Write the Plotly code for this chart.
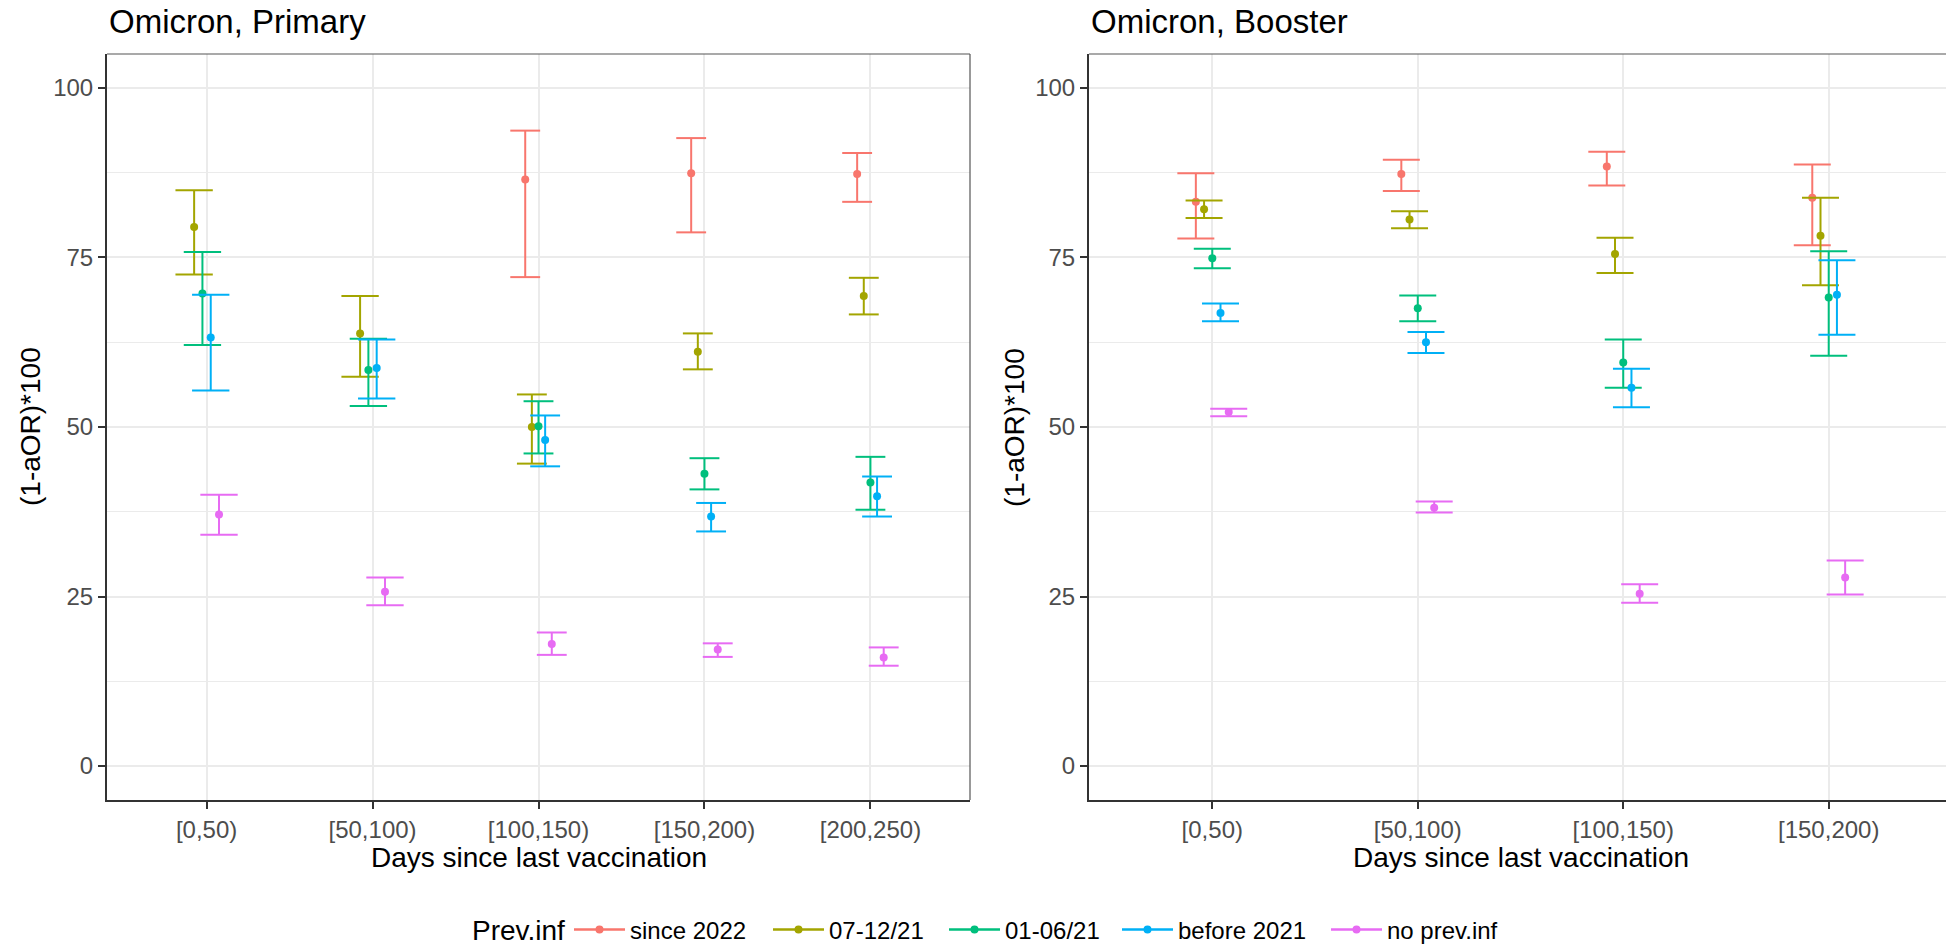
import plotly.graph_objects as go

# ---------------- data ----------------
groups = ["since 2022", "07-12/21", "01-06/21", "before 2021", "no prev.inf"]
colors = ["#F8766D", "#A3A500", "#00BF7D", "#00B0F6", "#E76BF3"]

primary_cats = ["[0,50)", "[50,100)", "[100,150)", "[150,200)", "[200,250)"]
booster_cats = ["[0,50)", "[50,100)", "[100,150)", "[150,200)"]

primary_est = {
    "since 2022": [None, None, 86.5, 87.4, 87.3],
    "07-12/21": [79.5, 63.8, 50.0, 61.1, 69.3],
    "01-06/21": [69.7, 58.4, 50.1, 43.1, 41.8],
    "before 2021": [63.2, 58.7, 48.1, 36.8, 39.8],
    "no prev.inf": [37.1, 25.7, 18.0, 17.2, 16.0],
}
primary_lo = {
    "since 2022": [None, None, 72.1, 78.7, 83.2],
    "07-12/21": [72.5, 57.4, 44.6, 58.5, 66.6],
    "01-06/21": [62.1, 53.1, 46.1, 40.8, 37.8],
    "before 2021": [55.4, 54.2, 44.2, 34.6, 36.8],
    "no prev.inf": [34.1, 23.7, 16.4, 16.1, 14.8],
}
primary_hi = {
    "since 2022": [None, None, 93.7, 92.6, 90.4],
    "07-12/21": [84.9, 69.3, 54.8, 63.8, 72.0],
    "01-06/21": [75.8, 63.0, 53.8, 45.4, 45.6],
    "before 2021": [69.5, 62.9, 51.7, 38.8, 42.7],
    "no prev.inf": [40.0, 27.8, 19.7, 18.1, 17.5],
}

booster_est = {
    "since 2022": [83.2, 87.3, 88.4, 83.8],
    "07-12/21": [82.1, 80.6, 75.5, 78.2],
    "01-06/21": [74.9, 67.5, 59.5, 69.1],
    "before 2021": [66.8, 62.5, 55.8, 69.5],
    "no prev.inf": [52.2, 38.1, 25.4, 27.8],
}
booster_lo = {
    "since 2022": [77.8, 84.8, 85.6, 76.8],
    "07-12/21": [80.8, 79.3, 72.7, 70.9],
    "01-06/21": [73.4, 65.6, 55.8, 60.5],
    "before 2021": [65.6, 60.9, 52.9, 63.6],
    "no prev.inf": [51.6, 37.4, 24.1, 25.3],
}
booster_hi = {
    "since 2022": [87.4, 89.4, 90.6, 88.7],
    "07-12/21": [83.4, 81.8, 77.9, 83.8],
    "01-06/21": [76.3, 69.4, 62.9, 75.9],
    "before 2021": [68.2, 64.0, 58.6, 74.6],
    "no prev.inf": [52.7, 39.0, 26.8, 30.3],
}

y_ticks = [0, 25, 50, 75, 100]

# ---------------- layout constants ----------------
W, H = 1946, 947
FONT = "Liberation Sans, Arial, sans-serif"
DODGE = 0.2
EB_WIDTH = 0.9
LEGEND_Y = 930
LEGEND_KEY_X = [574, 773, 949, 1122, 1331]   # pixel x where each legend key starts

fig = go.Figure()


def add_panel(cats, est, lo, hi, xa, ya):
    ncat = len(cats)
    present = []
    for c in range(ncat):
        present.append([g for g in groups if est[g][c] is not None])
    for gi, g in enumerate(groups):
        ex, ey = [], []
        px, py = [], []
        for c in range(ncat):
            if est[g][c] is None:
                continue
            n = len(present[c])
            k = present[c].index(g)
            xc = c + (k - (n - 1) / 2) * DODGE / n
            hw = EB_WIDTH / n / 2
            ex += [xc, xc, None, xc - hw, xc + hw, None, xc - hw, xc + hw, None]
            ey += [lo[g][c], hi[g][c], None, hi[g][c], hi[g][c], None, lo[g][c], lo[g][c], None]
            px.append(xc)
            py.append(est[g][c])
        fig.add_trace(go.Scatter(x=ex, y=ey, mode="lines", xaxis=xa, yaxis=ya,
                                 line=dict(color=colors[gi], width=2),
                                 showlegend=False, hoverinfo="skip"))
        fig.add_trace(go.Scatter(x=px, y=py, mode="markers", xaxis=xa, yaxis=ya,
                                 marker=dict(color=colors[gi], size=8),
                                 showlegend=False, name=g))


add_panel(primary_cats, primary_est, primary_lo, primary_hi, "x", "y")
add_panel(booster_cats, booster_est, booster_lo, booster_hi, "x2", "y2")

# legend entries, each in its own legend box so spacing can follow the reference
legend_layouts = {}
for gi, g in enumerate(groups):
    lname = "legend" if gi == 0 else f"legend{gi + 1}"
    fig.add_trace(go.Scatter(x=[None], y=[None], mode="lines+markers", name=g,
                             line=dict(color=colors[gi], width=2.5),
                             marker=dict(color=colors[gi], size=8),
                             xaxis="x", yaxis="y", legend=lname, showlegend=True))
    legend_layouts[lname] = dict(
        orientation="h", x=(LEGEND_KEY_X[gi] - 5) / W, xanchor="left",
        y=1 - LEGEND_Y / H, yanchor="middle",
        font=dict(family=FONT, size=24, color="black"),
        itemwidth=51, bgcolor="rgba(0,0,0,0)",
    )

# panel geometry in pixels
L_x0, L_x1 = 107.0, 970.0
R_x0, R_x1 = 1089.0, 1946.0
P_top, P_bot = 54.0, 800.0
unit_px_right = (L_x1 - L_x0) / 4.2

ydom = [1 - P_bot / H, 1 - P_top / H]

axis_common = dict(
    showline=True, linecolor="#333333", linewidth=2,
    ticks="outside", ticklen=7, tickwidth=2, tickcolor="#333333",
    tickfont=dict(family=FONT, size=24, color="#4D4D4D"),
    showgrid=True, gridcolor="#EBEBEB", gridwidth=2, zeroline=False, mirror=False,
)
minor_grid = dict(dtick=12.5, tick0=0, showgrid=True, gridcolor="#EBEBEB", gridwidth=1, ticks="")

fig.update_layout(
    width=W, height=H,
    margin=dict(l=0, r=0, t=0, b=0, autoexpand=False),
    paper_bgcolor="white", plot_bgcolor="white",
    font=dict(family=FONT, color="black"),
    xaxis=dict(domain=[L_x0 / W, L_x1 / W], range=[-0.6, len(primary_cats) - 0.4],
               tickmode="array", tickvals=list(range(len(primary_cats))), ticktext=primary_cats,
               anchor="y", **axis_common),
    yaxis=dict(domain=ydom, range=[-5, 105], tickmode="array", tickvals=y_ticks,
               anchor="x", minor=minor_grid, **axis_common),
    xaxis2=dict(domain=[R_x0 / W, 1.0],
                range=[-0.6, -0.6 + (R_x1 - R_x0) / unit_px_right],
                tickmode="array", tickvals=list(range(len(booster_cats))), ticktext=booster_cats,
                anchor="y2", **axis_common),
    yaxis2=dict(domain=ydom, range=[-5, 105], tickmode="array", tickvals=y_ticks,
                anchor="x2", minor=minor_grid, **axis_common),
    showlegend=True,
    **legend_layouts,
)

# thin top/right panel borders (ggplot panel.border)
shapes = [
    dict(type="line", xref="x domain", yref="y domain", x0=0, x1=1, y0=1, y1=1,
         line=dict(color="#555555", width=1.2)),
    dict(type="line", xref="x domain", yref="y domain", x0=1, x1=1, y0=0, y1=1,
         line=dict(color="#555555", width=1.2)),
    dict(type="line", xref="x2 domain", yref="y2 domain", x0=0, x1=1, y0=1, y1=1,
         line=dict(color="#555555", width=1.2)),
]
fig.update_layout(shapes=shapes)

annotations = [
    dict(text="Omicron, Primary", x=L_x0 / W, y=1 - 22 / H, xref="paper", yref="paper",
         xanchor="left", yanchor="middle", showarrow=False, font=dict(family=FONT, size=33, color="black")),
    dict(text="Omicron, Booster", x=R_x0 / W, y=1 - 22 / H, xref="paper", yref="paper",
         xanchor="left", yanchor="middle", showarrow=False, font=dict(family=FONT, size=33, color="black")),
    dict(text="(1-aOR)*100", x=30 / W, y=1 - 427 / H, xref="paper", yref="paper", textangle=-90,
         xanchor="center", yanchor="middle", showarrow=False, font=dict(family=FONT, size=28, color="black")),
    dict(text="(1-aOR)*100", x=1014 / W, y=1 - 427 / H, xref="paper", yref="paper", textangle=-90,
         xanchor="center", yanchor="middle", showarrow=False, font=dict(family=FONT, size=28, color="black")),
    dict(text="Days since last vaccination", x=(L_x0 + L_x1) / 2 / W, y=1 - 857 / H, xref="paper", yref="paper",
         xanchor="center", yanchor="middle", showarrow=False, font=dict(family=FONT, size=28, color="black")),
    dict(text="Days since last vaccination", x=(R_x0 + R_x0 + (L_x1 - L_x0)) / 2 / W, y=1 - 857 / H,
         xref="paper", yref="paper",
         xanchor="center", yanchor="middle", showarrow=False, font=dict(family=FONT, size=28, color="black")),
    # legend title
    dict(text="Prev.inf", x=470 / W, y=1 - LEGEND_Y / H, xref="paper", yref="paper",
         xanchor="left", yanchor="middle", showarrow=False, font=dict(family=FONT, size=28, color="black")),
]
fig.update_layout(annotations=annotations)

fig.write_html("out.html")
